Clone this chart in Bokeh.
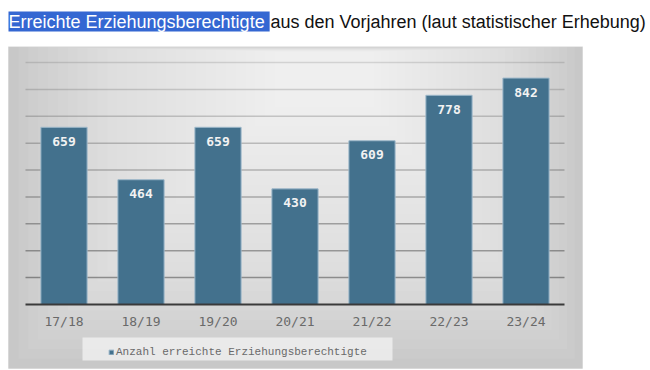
from bokeh.plotting import figure
from bokeh.layouts import column
from bokeh.models import (BoxAnnotation, Label, LabelSet, ColumnDataSource,
                          Legend, LegendItem, FactorRange, Range1d)
from bokeh.core.properties import value
from bokeh.embed import file_html
from bokeh.resources import INLINE

years = ["17/18", "18/19", "19/20", "20/21", "21/22", "22/23", "23/24"]
counts = [659, 464, 659, 430, 609, 778, 842]
series_name = "Anzahl erreichte Erziehungsberechtigte"
title_highlight = "Erreichte Erziehungsberechtigte "
title_rest = "aus den Vorjahren (laut statistischer Erhebung)"
grid_values = [100, 200, 300, 400, 500, 600, 700, 800, 900]

# ---------------- title strip ----------------
TW, TH = 650, 46
t = figure(width=TW, height=TH, x_range=Range1d(0, TW), y_range=Range1d(0, TH),
           x_axis_type=None, y_axis_type=None, output_backend="svg",
           toolbar_location=None, min_border=0)
t.outline_line_color = None
t.title.visible = False
t.add_layout(Label(x=8, y=25, text=title_highlight, text_baseline="middle",
                   text_font="Liberation Sans", text_font_size="18px",
                   text_color="white", background_fill_color="#3467d2",
                   background_fill_alpha=1))
t.add_layout(Label(x=270, y=25, text=title_rest, text_baseline="middle",
                   text_font="Liberation Sans", text_font_size="18px",
                   text_color="#111111"))

# ---------------- chart ----------------
W, H = 589, 324
p = figure(width=W, height=H,
           x_range=FactorRange(*years, range_padding=0.3247,
                               range_padding_units="absolute"),
           y_range=Range1d(-245.5, 959.5),
           y_axis_location=None, output_backend="svg",
           toolbar_location=None, min_border=0)
p.title.visible = False
p.background_fill_alpha = 0
p.border_fill_color = "white"
p.outline_line_color = None
p.xgrid.visible = False
p.ygrid.visible = False

# gray panel with soft radial-like gradient
bl, br, bt, bb = 8, 582, 0, 322
cx, cy = 330, 6
p.add_layout(BoxAnnotation(left=bl, right=br, top=bt, bottom=bb,
                           left_units="canvas", right_units="canvas",
                           top_units="canvas", bottom_units="canvas",
                           fill_color="#c8c8c8", fill_alpha=1,
                           line_color="#c0c0c0", line_width=1, level="image"))
N = 32
for k in range(1, N):
    f = k / N * 0.98
    p.add_layout(BoxAnnotation(left=bl + f * (cx - bl), right=br - f * (br - cx),
                               top=bt + f * (cy - bt), bottom=bb - f * (bb - cy),
                               left_units="canvas", right_units="canvas",
                               top_units="canvas", bottom_units="canvas",
                               fill_color="white", fill_alpha=0.06,
                               line_color=None, level="image"))

# grid lines limited to the category span, fading towards the top
grid_alpha = [0.36 - 0.03 * i for i in range(len(grid_values))]
p.segment(x0=0, x1=len(years), y0=grid_values, y1=grid_values,
          line_color="black", line_alpha=grid_alpha, line_width=1.5)

src = ColumnDataSource(dict(x=years, top=counts, lbl=[str(c) for c in counts]))
bars = p.vbar(x="x", top="top", width=0.6, source=src,
              fill_color="#43718d", line_color="#9db8ca", line_width=1)

p.add_layout(LabelSet(x="x", y="top", text="lbl", source=src, y_offset=-14,
                      text_align="center", text_baseline="middle",
                      text_font=value("DejaVu Sans Mono"), text_font_style="bold",
                      text_font_size="13px", text_color="#f2f2f2"))

ax = p.xaxis[0]
ax.fixed_location = 0
ax.bounds = (0, len(years))
ax.axis_line_color = "#3a3a3a"
ax.axis_line_width = 2
ax.major_tick_line_color = None
ax.minor_tick_line_color = None
ax.major_label_standoff = 4
ax.major_label_text_font = "DejaVu Sans Mono"
ax.major_label_text_font_size = "13px"
ax.major_label_text_color = "#6a6a6a"

# legend panel
p.add_layout(BoxAnnotation(left=82, right=392, top=291, bottom=314,
                           left_units="canvas", right_units="canvas",
                           top_units="canvas", bottom_units="canvas",
                           fill_color="#efefef", fill_alpha=0.85,
                           line_color=None, level="underlay"))
legend = Legend(items=[LegendItem(label=series_name, renderers=[bars])],
                location=(108, 12), orientation="horizontal",
                background_fill_alpha=0, border_line_color=None,
                padding=4, margin=0, glyph_width=6, glyph_height=6,
                label_standoff=2, label_height=11,
                label_text_font="Liberation Mono", label_text_font_size="11px",
                label_text_color="#6a6a6a")
p.add_layout(legend, "center")

open("out.html", "w").write(file_html(column(t, p, spacing=0), INLINE))
